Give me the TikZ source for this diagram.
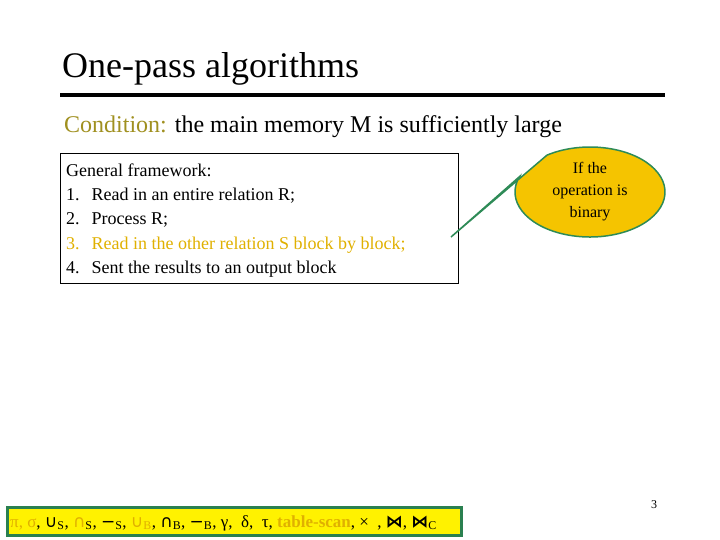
\documentclass[tikz,border=0pt]{standalone}
\usepackage{fontspec}
\setmainfont{Liberation Serif}
\newfontfamily\symf{DejaVu Sans}
\usetikzlibrary{shapes.geometric,calc}
\definecolor{gold}{HTML}{E0B000}
\definecolor{olive}{HTML}{A09020}
\definecolor{callfill}{HTML}{F5C400}
\definecolor{callline}{HTML}{2E8B57}
\definecolor{bargreen}{HTML}{2A8050}
\begin{document}
\begin{tikzpicture}[x=1pt,y=-1pt,
  txt/.style={inner sep=0,anchor=base west}]
\useasboundingbox (0,0) rectangle (720,540);
\node[txt,font=\fontsize{36}{40}\selectfont] (title) at (62,78) {One-pass algorithms};
\draw[line width=4pt] (60,95) -- (665,95);
\node[txt,font=\fontsize{24}{28}\selectfont] (cond) at (64,133) {\textcolor{olive}{Condition:} the main memory M is sufficiently large};
\node[draw,line width=0.8pt,minimum width=398pt,minimum height=130pt,anchor=north west] (box) at (60,153) {};
\begin{scope}[font=\fontsize{18}{20}\selectfont]
\node[txt] (l0) at (66,177) {General framework:};
\node[txt] (l1) at (66,201) {1.\hspace{12pt}Read in an entire relation R;};
\node[txt] (l2) at (66,225) {2.\hspace{12pt}Process R;};
\node[txt,gold] (l3) at (66,249) {3.\hspace{12pt}Read in the other relation S block by block;};
\node[txt] (l4) at (66,273) {4.\hspace{12pt}Sent the results to an output block};
\end{scope}
\coordinate (tip) at (451,237);
\filldraw[callline,fill=callfill,line width=1.5pt]
  (tip) -- ($(590,192)+(200:75 and 45)$) arc[start angle=200,end angle=-125,x radius=75,y radius=45] -- cycle;
\node[align=center,font=\fontsize{16}{22}\selectfont] (call) at (590,192) {If the\\operation is\\binary};
\node[draw=bargreen,fill=yellow,line width=2.5pt,minimum width=454pt,minimum height=28pt,anchor=north west] (bar) at (6,506) {};
\node[txt,font=\fontsize{17}{20}\selectfont] (ops) at (10,527) {\textcolor{gold}{π, σ}, {\symf ∪}\textsubscript{S}, {\symf\textcolor{gold}{∩}}\textsubscript{S}, {\symf −}\textsubscript{S}, \textcolor{gold}{{\symf ∪}\textsubscript{B}}, {\symf ∩}\textsubscript{B}, {\symf −}\textsubscript{B}, γ,\ \ δ,\ \ τ, \textcolor{gold}{\textbf{table-scan}}, ×\ \ , {\symf\textbf{⋈}}, {\symf\textbf{⋈}}\textsubscript{C}};
\node[txt,font=\fontsize{12}{14}\selectfont] (pg) at (651,508) {3};
\end{tikzpicture}
\end{document}
